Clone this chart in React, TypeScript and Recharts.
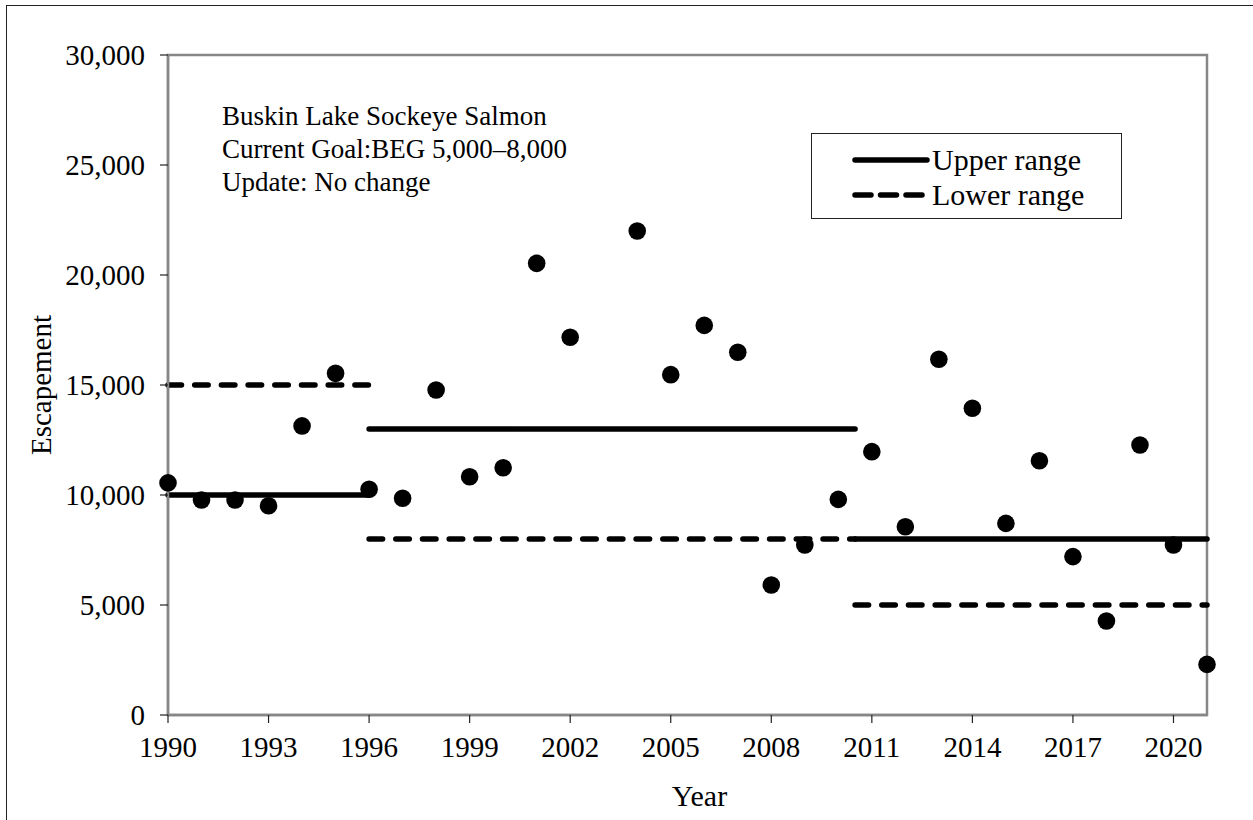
import React from "react";
import {
  ComposedChart,
  XAxis,
  YAxis,
  Line,
  Scatter,
  ReferenceArea,
} from "recharts";

// ---- data ----
const years = [
  1990, 1991, 1992, 1993, 1994, 1995, 1996, 1997, 1998, 1999, 2000, 2001,
  2002, 2003, 2004, 2005, 2006, 2007, 2008, 2009, 2010, 2011, 2012, 2013,
  2014, 2015, 2016, 2017, 2018, 2019, 2020, 2021,
];
const escapement: (number | null)[] = [
  10550, 9770, 9770, 9510, 13140, 15530, 10260, 9850, 14770, 10830, 11240,
  20530, 17170, null, 22000, 15470, 17710, 16490, 5910, 7730, 9800, 11970,
  8560, 16170, 13940, 8710, 11560, 7200, 4270, 12270, 7730, 2300,
];

const segStart = [1990, 1996, 2010.5];
const segEnd = [1996, 2010.5, 2021];
const upperRange = [10000, 13000, 8000];
const lowerRange = [15000, 8000, 5000];

const xTicks = [1990, 1993, 1996, 1999, 2002, 2005, 2008, 2011, 2014, 2017, 2020];
const yTicks = [0, 5000, 10000, 15000, 20000, 25000, 30000];

const annotationLines = [
  "Buskin Lake Sockeye Salmon",
  "Current Goal:BEG 5,000\u20138,000",
  "Update: No change",
];
const legendLabels = ["Upper range", "Lower range"];

// ---- derived tables ----
const points = years
  .map((y, i) => ({ year: y, v: escapement[i] }))
  .filter((d) => d.v !== null);

const makeSegs = (vals: number[]) =>
  vals.map((v, i) => [
    { year: segStart[i], v },
    { year: segEnd[i], v },
  ]);
const upperSegs = makeSegs(upperRange);
const lowerSegs = makeSegs(lowerRange);

const FONT = '"Liberation Serif", "Times New Roman", Times, serif';
const AXIS_GRAY = "#878787";
const DASH = "13.5 13.2";
const LW = 5.5;
const TICK_FS = 29;

const fmt = (v: number) => v.toLocaleString("en-US");

const Dot = (props: any) => (
  <circle cx={props.cx} cy={props.cy} r={8.8} fill="#000" />
);

const YLabel = (props: any) => {
  const vb = props.viewBox || { x: 0, y: 0, width: 0, height: 0 };
  const cx = vb.x + 41;
  const cy = vb.y + vb.height / 2;
  return (
    <text
      x={cx}
      y={cy}
      transform={`rotate(-90 ${cx} ${cy})`}
      textAnchor="middle"
      dominantBaseline="central"
      fontFamily={FONT}
      fontSize={29}
      fill="#000"
    >
      Escapement
    </text>
  );
};

const XLabel = (props: any) => {
  const vb = props.viewBox || { x: 0, y: 0, width: 0, height: 0 };
  return (
    <text
      x={vb.x + vb.width / 2 + 12}
      y={vb.y + 91}
      textAnchor="middle"
      fontFamily={FONT}
      fontSize={30}
      fill="#000"
    >
      Year
    </text>
  );
};

export default function App() {
  return (
    <div
      style={{
        position: "absolute",
        left: 0,
        top: 0,
        width: 1253,
        height: 820,
        overflow: "hidden",
        background: "#fff",
      }}
    >
      <div
        style={{
          position: "absolute",
          left: 6,
          top: 5,
          width: 1400,
          height: 1000,
          borderTop: "1.5px solid #222",
          borderLeft: "1.5px solid #222",
        }}
      />
      <div style={{ position: "absolute", left: 0, top: 0 }}>
        <ComposedChart
          width={1253}
          height={820}
          margin={{ top: 55, right: 46, bottom: 0, left: 0 }}
        >
          <XAxis
            type="number"
            dataKey="year"
            domain={[1990, 2021]}
            ticks={xTicks}
            allowDecimals
            height={105}
            tickSize={8}
            tickMargin={13}
            interval={0}
            tick={{ fill: "#000", fontSize: TICK_FS, fontFamily: FONT }}
            tickLine={{ stroke: "#222", strokeWidth: 1.2 }}
            axisLine={{ stroke: AXIS_GRAY, strokeWidth: 2.5 }}
            label={<XLabel />}
          />
          <YAxis
            type="number"
            dataKey="v"
            domain={[0, 30000]}
            ticks={yTicks}
            width={168}
            tickSize={8}
            tickMargin={15}
            interval={0}
            tickFormatter={fmt}
            tick={{ fill: "#000", fontSize: TICK_FS, fontFamily: FONT }}
            tickLine={{ stroke: "#222", strokeWidth: 1.2 }}
            axisLine={{ stroke: AXIS_GRAY, strokeWidth: 2.5 }}
            label={<YLabel />}
          />
          <ReferenceArea
            x1={1990}
            x2={2021}
            y1={0}
            y2={30000}
            fill="none"
            fillOpacity={0}
            stroke={AXIS_GRAY}
            strokeWidth={2.5}
            ifOverflow="visible"
          />
          {upperSegs.map((d, i) => (
            <Line
              key={`u${i}`}
              data={d}
              dataKey="v"
              type="linear"
              stroke="#000"
              strokeWidth={LW}
              strokeLinecap="round"
              dot={false}
              activeDot={false}
              isAnimationActive={false}
            />
          ))}
          {lowerSegs.map((d, i) => (
            <Line
              key={`l${i}`}
              data={d}
              dataKey="v"
              type="linear"
              stroke="#000"
              strokeWidth={LW}
              strokeLinecap="round"
              strokeDasharray={DASH}
              dot={false}
              activeDot={false}
              isAnimationActive={false}
            />
          ))}
          <Scatter
            data={points}
            dataKey="v"
            shape={<Dot />}
            isAnimationActive={false}
          />
        </ComposedChart>
      </div>

      {/* annotation */}
      <div
        style={{
          position: "absolute",
          left: 222,
          top: 100,
          fontFamily: FONT,
          fontSize: 27,
          lineHeight: "33px",
          color: "#000",
          whiteSpace: "nowrap",
        }}
      >
        {annotationLines.map((t) => (
          <div key={t}>{t}</div>
        ))}
      </div>

      {/* legend */}
      <div
        style={{
          position: "absolute",
          left: 811,
          top: 133,
          width: 309,
          height: 84,
          border: "1.5px solid #222",
          fontFamily: FONT,
          fontSize: 30,
          color: "#000",
          boxSizing: "content-box",
        }}
      >
        {legendLabels.map((t, i) => (
          <div
            key={t}
            style={{
              position: "absolute",
              left: 40,
              top: 9 + i * 35,
              height: 34,
              display: "flex",
              alignItems: "center",
              whiteSpace: "nowrap",
            }}
          >
            <svg width={80} height={12} style={{ display: "block" }}>
              <line
                x1={3}
                y1={6}
                x2={75}
                y2={6}
                stroke="#000"
                strokeWidth={LW}
                strokeLinecap="round"
                strokeDasharray={i === 1 ? "16 9.5" : undefined}
              />
            </svg>
            <span>{t}</span>
          </div>
        ))}
      </div>
    </div>
  );
}
